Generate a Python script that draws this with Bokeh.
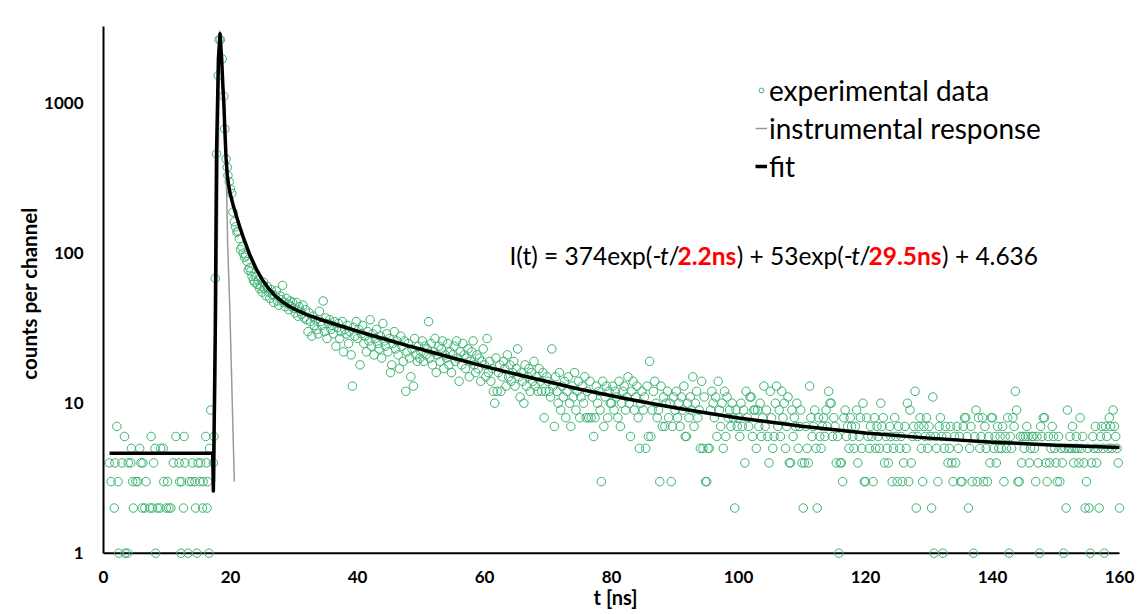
import numpy as np
from bokeh.plotting import figure
from bokeh.models import (Range1d, FixedTicker, PrintfTickFormatter, Legend,
                          LegendItem, Label, ColumnDataSource)
from bokeh.embed import file_html
from bokeh.resources import INLINE

# ---------------- data ----------------
# baseline channels before the excitation pulse
base_t = [0.9, 1.2, 1.7, 1.8, 2.1, 2.3, 2.4, 2.9, 3.3, 3.4, 3.8, 3.9, 4.3, 4.4, 4.6,
          4.7, 5.1, 5.4, 5.7, 5.9, 6.1, 6.2, 6.5, 6.7, 7.3, 7.5, 7.7, 7.9, 8.1, 8.2,
          8.5, 8.9, 9.0, 9.4, 9.5, 9.9, 10.1, 10.3, 10.6, 11.0, 11.4, 11.9, 12.0, 12.2,
          12.3, 12.6, 12.7, 12.8, 13.3, 13.5, 13.9, 14.0, 14.4, 14.5, 14.7, 14.9, 15.2,
          15.3, 15.6, 15.7, 16.1, 16.2, 16.3, 16.4, 16.6, 16.7, 16.9, 17.3, 17.4]
base_n = [4, 3, 2, 4, 7, 3, 1, 4, 6, 1, 1, 4, 4, 5, 3,
          2, 3, 3, 5, 4, 2, 4, 2, 3, 2, 6, 2, 4, 5, 1,
          2, 2, 5, 5, 3, 2, 3, 2, 2, 4, 6, 4, 3, 1,
          3, 2, 6, 4, 1, 3, 3, 4, 3, 2, 1, 4, 3,
          4, 2, 3, 6, 4, 2, 3, 1, 5, 9, 4, 6]

# rise and top of the pulse
peak_t = [17.6, 17.8, 18.06, 18.2, 18.4, 18.7, 18.95, 19.1, 19.3, 19.5]
peak_n = [68, 459, 1530, 2650, 2650, 1975, 1113, 674, 425, 374]

# decay tail, one value per 0.2 ns channel starting at 19.6 ns
TAIL_T0 = 19.6
TAIL_DT = 0.2
tail_20s = [330, 300, 268, 250, 188, 162, 150, 138, 140, 125, 106, 110, 100, 94, 96,
            88, 77, 80, 76, 70, 66, 64, 70, 62, 66, 58, 60, 55, 64, 58, 52, 60, 55,
            50, 57, 53, 47, 52, 56, 48, 45, 52, 49, 61, 47, 44, 50, 46, 42, 48, 44, 47]
tail_30s = [43, 40, 47, 38, 44, 41, 39, 45, 37, 42, 36, 30, 40, 35, 28, 38, 33, 36, 31, 29,
            41, 35, 33, 48, 30, 37, 27, 34, 36, 31, 33, 29, 35, 24, 32, 34, 27, 30, 35, 22,
            31, 29, 33, 25, 30, 21, 13, 32, 28, 35]
tail_40s = [27, 31, 18, 29, 33, 25, 28, 22, 30, 26, 36, 24, 29, 21, 27, 31, 25, 23, 28, 20,
            34, 26, 24, 29, 22, 27, 16, 18, 25, 30, 23, 26, 21, 17, 28, 24, 19, 26, 12, 22,
            25, 20, 15, 23, 13, 27, 21, 19, 24, 20]
tail_50s = [22, 26, 19, 24, 21, 23, 35, 20, 25, 18, 22, 27, 16, 21, 24, 19, 23, 26, 17, 21,
            20, 25, 18, 22, 16, 21, 24, 19, 26, 20, 14, 22, 18, 25, 21, 17, 20, 23, 15, 19,
            22, 26, 18, 16, 21, 17, 20, 14, 19, 23]
tail_60s = [18, 15, 27, 16, 19, 14, 17, 12, 10, 20, 12, 16, 18, 12, 15, 19, 17, 13, 21, 15,
            18, 14, 16, 19, 13, 17, 23, 15, 11, 16, 14, 10, 18, 13, 15, 17, 12, 16, 14, 19,
            13, 15, 12, 17, 14, 12, 16, 8, 12, 15]
tail_70s = [14, 12, 11, 23, 13, 7, 15, 12, 10, 16, 9, 13, 11, 14, 8, 12, 15, 10, 7, 13,
            11, 16, 9, 12, 14, 8, 11, 13, 10, 15, 8, 12, 8, 14, 8, 11, 6, 8, 13, 10,
            12, 9, 3, 14, 7, 11, 13, 8, 12, 10]
tail_80s = [10, 13, 9, 12, 11, 8, 14, 7, 10, 12, 13, 9, 11, 15, 10, 6, 12, 14, 9, 11,
            13, 8, 5, 10, 12, 9, 11, 5, 13, 6, 19, 6, 9, 12, 14, 10, 8, 9, 3, 13,
            7, 11, 7, 10, 12, 8, 10, 3, 7, 11]
tail_90s = [9, 12, 8, 10, 7, 11, 9, 13, 6, 6, 10, 8, 11, 9, 15, 7, 10, 12, 8, 9,
            5, 14, 5, 11, 3, 3, 5, 5, 9, 12, 10, 8, 11, 6, 14, 9, 7, 10, 5, 12,
            6, 11, 8, 9, 7, 10, 8, 2, 9, 7]
tail_100s = [8, 6, 10, 7, 9, 4, 12, 8, 7, 11, 11, 6, 9, 9, 5, 9, 7, 10, 6, 8,
             13, 7, 9, 6, 4, 12, 8, 5, 6, 10, 13, 7, 9, 6, 12, 8, 10, 5, 7, 11,
             4, 4, 9, 6, 8, 7, 10, 5, 7, 9]
tail_110s = [4, 2, 4, 7, 5, 4, 13, 8, 6, 7, 9, 5, 2, 8, 6, 5, 7, 8, 6, 9,
             7, 12, 10, 10, 6, 8, 7, 4, 6, 1, 4, 4, 3, 8, 9, 6, 7, 5, 8, 7,
             6, 5, 7, 9, 4, 6, 8, 5, 10, 3]
tail_120s = [3, 8, 6, 5, 7, 6, 3, 8, 5, 7, 6, 5, 10, 7, 8, 4, 6, 5, 4, 7,
             6, 3, 5, 8, 6, 3, 7, 5, 6, 3, 4, 7, 5, 10, 3, 9, 4, 6, 7, 12,
             2, 6, 7, 8, 5, 3, 7, 6, 8, 5]
tail_130s = [7, 6, 2, 11, 1, 6, 5, 3, 7, 8, 6, 1, 5, 7, 6, 4, 5, 7, 4, 3,
             6, 4, 7, 5, 6, 3, 3, 7, 8, 8, 6, 2, 5, 7, 3, 1, 6, 9, 3, 8,
             5, 6, 8, 3, 7, 5, 3, 6, 4, 8]
tail_140s = [8, 5, 6, 4, 7, 5, 6, 5, 7, 3, 6, 5, 8, 1, 6, 5, 8, 7, 12, 9,
             3, 3, 6, 4, 6, 5, 6, 7, 6, 4, 5, 6, 6, 5, 3, 6, 4, 1, 7, 6,
             8, 8, 4, 3, 6, 4, 5, 7, 6, 5]
tail_150s = [4, 3, 6, 3, 5, 4, 1, 5, 2, 9, 5, 6, 5, 7, 4, 5, 6, 5, 4, 8,
             5, 6, 4, 2, 3, 5, 2, 1, 4, 6, 5, 7, 4, 5, 2, 6, 7, 5, 1, 7,
             6, 5, 8, 7, 5, 9, 7, 6, 5, 4, 2]

# instrumental response (grey trace)
irf_t = [17.5, 18.3, 18.9, 19.3, 19.55, 19.9, 20.6]
irf_n = [3, 3050, 1100, 420, 115, 42, 3]

# fitted curve (black trace)
fit_t = [0.95, 17.2, 17.3, 17.6, 17.8, 18.1, 18.35, 18.6, 18.8, 18.95, 19.1, 19.3, 19.5,
         19.7, 19.9, 20.2, 20.5, 21, 21.5, 22, 23, 24, 25, 26, 27, 28, 29, 30, 32, 34,
         36, 38, 40, 42, 44, 46, 48, 50, 55, 60, 65, 70, 75, 80, 85, 90, 95, 100, 110,
         120, 130, 140, 150, 160]
fit_n = [4.64, 4.64, 2.6, 30, 460, 2000, 2900, 2000, 1300, 1000, 680, 430, 330,
         285, 255, 227, 203, 173, 148, 128, 98.5, 79.3, 66.6, 58.1, 52.2, 48.0, 44.9, 42.5,
         39.0, 36.3, 34.1, 32.1, 30.2, 28.5, 27.0, 25.5, 24.1, 22.9, 20.0, 17.6, 15.6, 13.9,
         12.4, 11.2, 10.2, 9.33, 8.60, 7.98, 7.02, 6.33, 5.85, 5.50, 5.25, 5.07]

x_ticks = [0, 20, 40, 60, 80, 100, 120, 140, 160]
y_ticks = [1, 10, 100, 1000]
legend_labels = ["experimental data", "instrumental response", "fit"]

# ---------------- assemble ----------------
tail_counts = (tail_20s + tail_30s + tail_40s + tail_50s + tail_60s + tail_70s + tail_80s +
               tail_90s + tail_100s + tail_110s + tail_120s + tail_130s + tail_140s + tail_150s)
tail_t = TAIL_T0 + TAIL_DT * np.arange(len(tail_counts))
t_all = np.concatenate([np.array(base_t), np.array(peak_t), tail_t])
n_all = np.concatenate([np.array(base_n, float), np.array(peak_n, float),
                        np.array(tail_counts, float)])

data_src = ColumnDataSource(dict(t=t_all, n=n_all))
irf_src = ColumnDataSource(dict(t=irf_t, n=irf_n))
fit_src = ColumnDataSource(dict(t=fit_t, n=fit_n))

X_MIN, X_MAX, X_VIEW_END = 0, 160, 161.26
Y_MIN, Y_VIEW_START, Y_VIEW_END = 1, 0.894, 3246

p = figure(width=1139, height=614, y_axis_type="log",
           x_range=Range1d(X_MIN, X_VIEW_END), y_range=Range1d(Y_VIEW_START, Y_VIEW_END),
           output_backend="svg", toolbar_location=None,
           min_border_left=103, min_border_right=12, min_border_top=26, min_border_bottom=54)
p.grid.visible = False
p.outline_line_color = None
p.background_fill_color = "white"
p.border_fill_color = "white"

# x-axis base line at the bottom of the count scale
p.segment(x0=[X_MIN], y0=[Y_MIN], x1=[X_MAX], y1=[Y_MIN], line_color="black", line_width=2)

GREEN = "#3cb371"
r_data = p.scatter("t", "n", source=data_src, marker="circle", size=8.5,
                   fill_color=None, line_color=GREEN, line_width=1)
r_irf = p.line("t", "n", source=irf_src, line_color="#999999", line_width=1.5)
r_fit = p.line("t", "n", source=fit_src, line_color="black", line_width=3.5,
               line_join="round")

# axes
xa = p.xaxis[0]
xa.ticker = FixedTicker(ticks=x_ticks)
xa.bounds = (X_MIN, X_MAX)
xa.axis_line_color = None
xa.major_tick_line_color = None
xa.minor_tick_line_color = None
xa.major_tick_out = 0
xa.major_tick_in = 0
xa.major_label_standoff = 10
xa.major_label_text_font = "Lato"
xa.major_label_text_font_style = "bold"
xa.major_label_text_font_size = "17px"
xa.major_label_text_color = "black"
xa.axis_label = "t [ns]"
xa.axis_label_text_font = "Lato"
xa.axis_label_text_font_style = "bold"
xa.axis_label_text_font_size = "20px"
xa.axis_label_text_color = "black"
xa.axis_label_standoff = -1

ya = p.yaxis[0]
ya.ticker = FixedTicker(ticks=y_ticks)
ya.formatter = PrintfTickFormatter(format="%d")
ya.bounds = (Y_MIN, Y_VIEW_END)
ya.axis_line_color = "black"
ya.axis_line_width = 2
ya.major_tick_line_color = None
ya.minor_tick_line_color = None
ya.major_tick_out = 0
ya.major_tick_in = 0
ya.major_label_standoff = 20
ya.major_label_text_font = "Lato"
ya.major_label_text_font_style = "bold"
ya.major_label_text_font_size = "17px"
ya.major_label_text_color = "black"
ya.axis_label = "counts per channel"
ya.axis_label_text_font = "Lato"
ya.axis_label_text_font_style = "bold"
ya.axis_label_text_font_size = "20.5px"
ya.axis_label_text_color = "black"
ya.axis_label_standoff = 0

# legend
legend = Legend(items=[LegendItem(label=legend_labels[0], renderers=[r_data]),
                       LegendItem(label=legend_labels[1], renderers=[r_irf]),
                       LegendItem(label=legend_labels[2], renderers=[r_fit])],
                location=(652, 375), orientation="vertical",
                border_line_color=None, background_fill_alpha=0,
                padding=0, margin=0, spacing=0,
                glyph_width=12, glyph_height=20, label_height=38, label_standoff=2,
                label_text_font="Lato", label_text_font_size="28px",
                label_text_color="black")
p.add_layout(legend)

# equation, split into styled pieces
eq_parts = [("I(t) = 374exp(-", "normal", "black"),
            ("t", "italic", "black"),
            ("/", "normal", "black"),
            ("2.2ns", "bold", "#ff0000"),
            (") + 53exp(-", "normal", "black"),
            ("t", "italic", "black"),
            ("/", "normal", "black"),
            ("29.5ns", "bold", "#ff0000"),
            (") + 4.636", "normal", "black")]
eq_x = [406, 556.6, 564.9, 574, 633.3, 747.7, 756, 765.1, 838.6]
for (txt, style, col), xx in zip(eq_parts, eq_x):
    p.add_layout(Label(x=xx, y=305, x_units="screen", y_units="screen", text=txt,
                       text_font="Lato", text_font_style=style, text_font_size="24.5px",
                       text_color=col, text_baseline="middle"))

open("out.html", "w").write(file_html(p, INLINE))
